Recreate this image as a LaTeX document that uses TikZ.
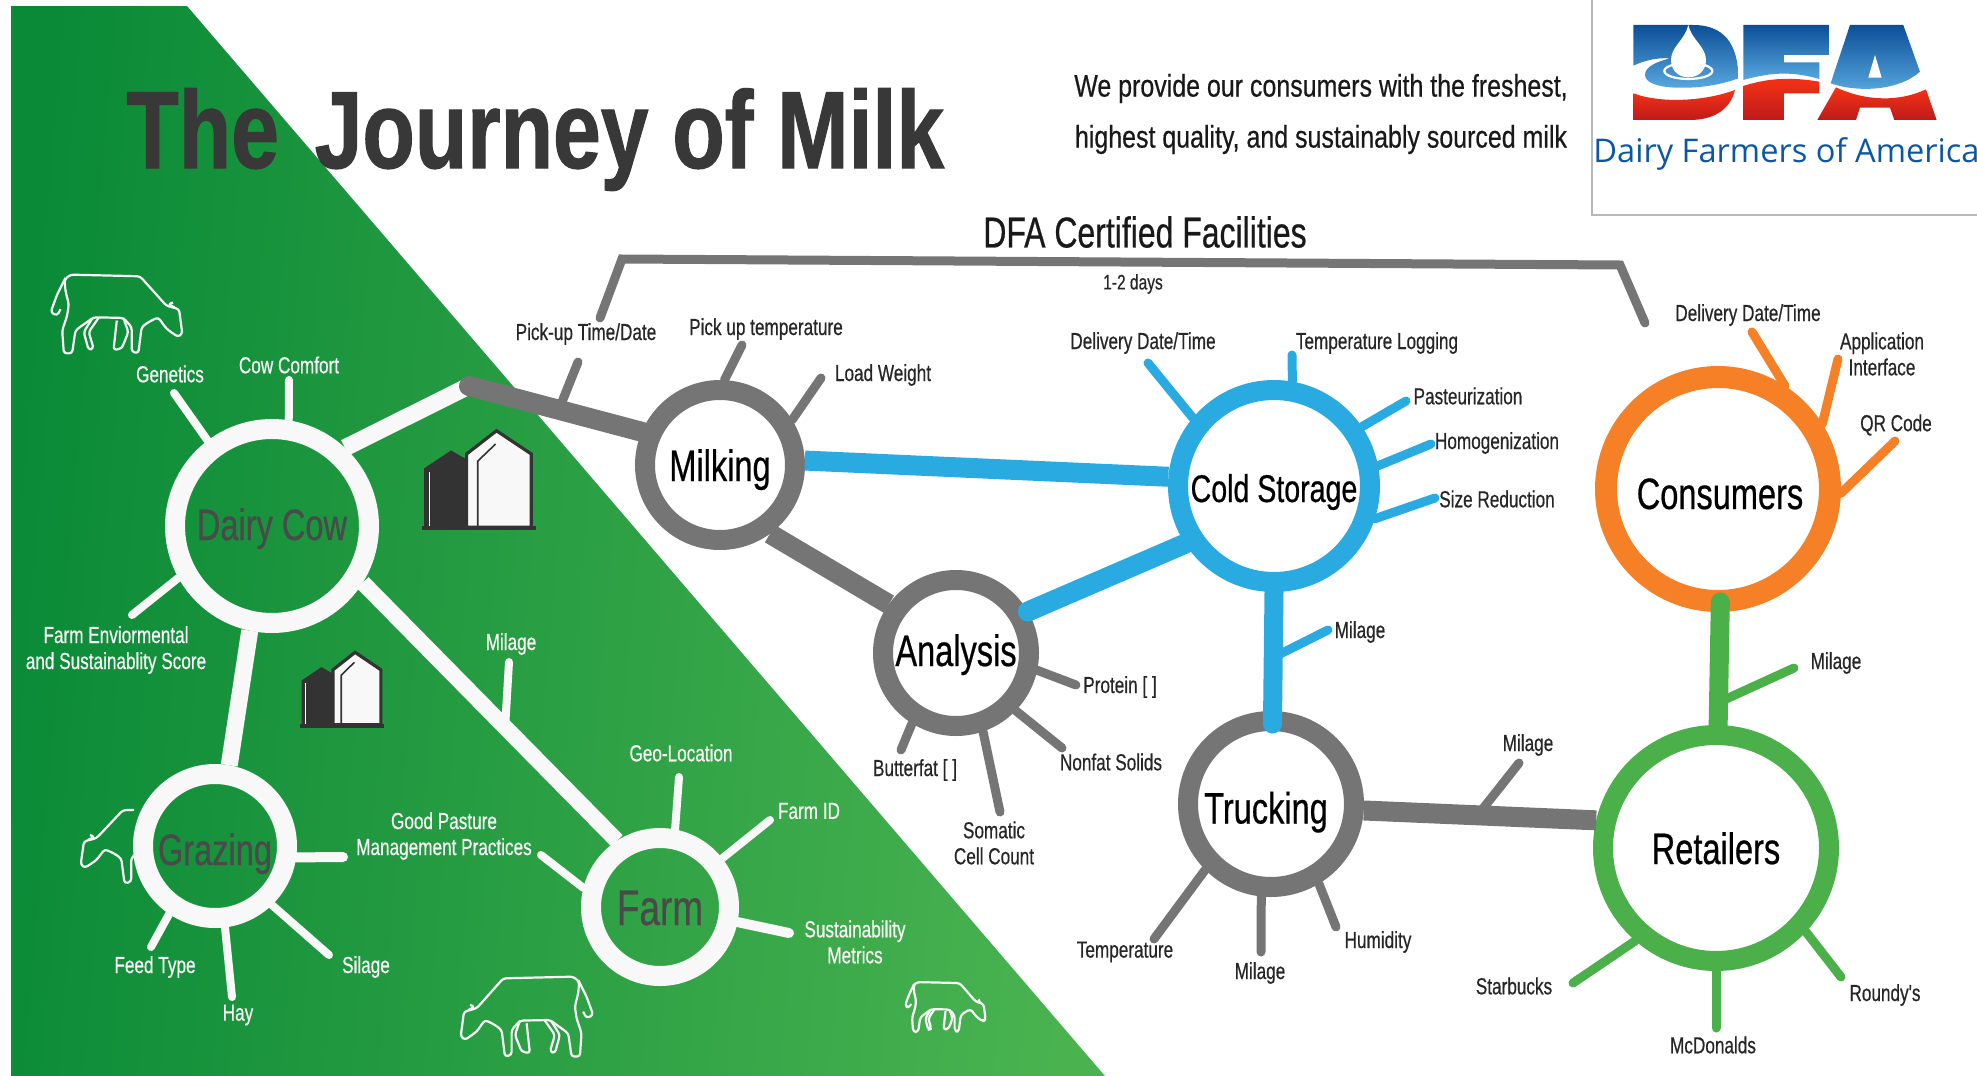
\documentclass[tikz,border=0pt]{standalone}
\usepackage{fontspec}
\setmainfont{Liberation Sans}
\newfontfamily\nar[FakeStretch=0.74,FakeBold=0.5]{Liberation Sans}
\newfontfamily\narb[FakeStretch=0.78,FakeBold=1]{Liberation Sans}
\newfontfamily\narc[FakeStretch=0.8,FakeBold=0.5]{Liberation Sans}
\newfontfamily\logof{Open Sans}
\definecolor{gA}{HTML}{0A8A37}
\definecolor{gB}{HTML}{4AB350}
\definecolor{cgray}{HTML}{757575}
\definecolor{cblue}{HTML}{29ABE2}
\definecolor{corange}{HTML}{F58026}
\definecolor{cgreen}{HTML}{4BB04A}
\definecolor{cwhite}{HTML}{F8F8F8}
\definecolor{cdark}{HTML}{333333}
\definecolor{ltext}{HTML}{4A4A4A}
\definecolor{lgb}{HTML}{0C4F98}
\definecolor{lgl}{HTML}{58A8DE}
\definecolor{lrt}{HTML}{F53316}
\definecolor{lrb}{HTML}{BE1A1A}
\definecolor{lblue}{HTML}{0B57A6}
\tikzset{
 ring/.style={circle,draw,line width=10pt,inner sep=0pt,align=center,text=black,text height=16pt,text depth=0pt,font=\nar\fontsize{22}{24}\selectfont},
 wring/.style={ring,draw=cwhite,text=ltext},
 lblk/.style={inner sep=0pt,align=center,text=black!85,font=\nar\fontsize{11.6}{13}\selectfont},
 lwht/.style={inner sep=0pt,align=center,text=cwhite,font=\nar\fontsize{11.6}{13}\selectfont},
 link/.style={line width=10pt},
 wtick/.style={draw=cwhite,line width=4pt,line cap=round},
 gtick/.style={draw=cgray,line width=4.5pt,line cap=round},
 btick/.style={draw=cblue,line width=4.5pt,line cap=round},
 otick/.style={draw=corange,line width=4.5pt,line cap=round},
 ntick/.style={draw=cgreen,line width=4.5pt,line cap=round},
 cowline/.style={draw=cwhite,line width=1.1pt,line join=round,rounded corners=1.5pt},
}
\newcommand{\cowicon}[1]{\begin{scope}[#1]
 \draw[cowline] (50,100) -- (130,10) -- (340,5) -- (358,20) -- (355,55) -- (345,95) -- (350,130) -- (365,175) -- (360,245) -- (335,245) -- (325,175) -- (270,135) -- (180,137) -- (155,165) -- (155,240) -- (135,245) -- (125,165) -- (105,150) -- (75,135) -- (50,170) -- (15,195) -- (2,185) -- (12,110) -- cycle;
 \draw[cowline] (355,15) -- (380,65) -- (400,120) -- (380,130) -- (370,110);
 \draw[cowline] (180,137) -- (165,180) -- (185,230) -- (210,235) -- (200,145);
 \draw[cowline] (275,140) -- (300,180) -- (285,235) -- (270,230) -- (285,180) -- (255,137);
 \draw[cowline] (25,105) -- (45,95) -- (30,90);
\end{scope}}
\newcommand{\siloicon}[1]{\begin{scope}[#1]
 \fill[cdark] (5,110) -- (65,60) -- (100,85) -- (100,275) -- (5,275) -- cycle;
 \draw[white,line width=.6pt] (17,120) -- (17,272);
 \draw[cdark,fill=cwhite,line width=1.6pt,line join=miter] (100,70) -- (167,5) -- (245,70) -- (245,275) -- (100,275) -- cycle;
 \draw[cdark,line width=.8pt] (125,272) -- (125,90) -- (165,42);
 \draw[cdark,line width=2pt] (0,278) -- (255,278);
\end{scope}}
\begin{document}
\begin{tikzpicture}[x=0.5pt,y=-0.5pt]
\useasboundingbox (0,0) rectangle (1977,1076);
% green field
\shade[left color=gA,right color=gB,shading angle=85] (11,6) -- (187,6) -- (1105,1076) -- (11,1076) -- cycle;
% logo frame
\draw[black!28,line width=.6pt] (1592,0) -- (1592,215) -- (1977,215);
% logo
\begin{scope}[shift={(1560,0)},scale=0.3333]
 \shade[top color=lgb,bottom color=lgl] (220,75) -- (400,75) .. controls (490,75) and (535,130) .. (535,235) .. controls (480,255) and (420,265) .. (350,263) .. controls (300,262) and (255,250) .. (255,225) .. controls (255,200) and (290,185) .. (330,175) .. controls (290,172) and (250,183) .. (220,197) -- cycle;
 \draw[white,line width=1.1pt] (385,213) ellipse [x radius=72,y radius=24];
 \fill[white] (385,75) .. controls (375,120) and (333,140) .. (333,180) .. controls (333,215) and (360,232) .. (385,232) .. controls (412,232) and (438,215) .. (438,180) .. controls (438,140) and (395,120) .. (385,75) -- cycle;
 \shade[top color=lrt,bottom color=lrb] (220,280) .. controls (300,310) and (430,305) .. (525,270) .. controls (510,330) and (460,360) .. (390,360) -- (220,360) -- cycle;
 \shade[top color=lgb,bottom color=lgl] (550,75) -- (807,75) -- (807,165) -- (672,165) -- (672,187) -- (778,187) -- (778,237) .. controls (700,215) and (640,215) .. (550,240) -- cycle;
 \shade[top color=lrt,bottom color=lrb] (550,258) .. controls (630,232) and (700,232) .. (778,245) -- (778,280) -- (672,280) -- (672,360) -- (550,360) -- cycle;
 \shade[top color=lgb,bottom color=lgl] (870,75) -- (1030,75) -- (1080,215) .. controls (1020,270) and (900,280) .. (812,250) -- cycle;
 \fill[white] (945,165) -- (965,233) -- (925,233) -- cycle;
 \shade[top color=lrt,bottom color=lrb] (828,262) .. controls (920,305) and (1020,305) .. (1098,268) -- (1130,360) -- (1003,360) -- (990,323) -- (900,323) -- (888,360) -- (772,360) -- cycle;
\end{scope}
\node[anchor=base west,inner sep=0pt,text=lblue,font=\logof\fontsize{16.3}{18}\selectfont] (logotext) at (1593,162) {Dairy Farmers of America};
% title
\node[anchor=base west,inner sep=0pt,text=black!78,font=\narb\bfseries\fontsize{55}{60}\selectfont] (title) at (126,168) {The\hspace{6pt} Journey of Milk};
\node[inner sep=0pt,align=center,text=black!90,font=\narc\fontsize{15.6}{25.5}\selectfont] (intro) at (1321,114) {We provide our consumers with the freshest,\\highest quality, and sustainably sourced milk};
\node[inner sep=0pt,text=black!90,font=\nar\fontsize{21.6}{22}\selectfont] (dfacert) at (1145,232) {DFA Certified Facilities};
\node[lblk,font=\nar\fontsize{10.5}{11}\selectfont] (days) at (1133,284) {1-2 days};
% icons
\cowicon{shift={(183,273)},xscale=-0.331,yscale=0.328}
\cowicon{shift={(460,975)},xscale=0.333,yscale=0.333}
\cowicon{shift={(986,981)},xscale=-0.2025,yscale=0.208}
\begin{scope}
 \clip (0,700) rectangle (134,950);
 \cowicon{shift={(80,807)},xscale=0.33,yscale=0.312}
\end{scope}
\siloicon{shift={(422,429)},xscale=0.446,yscale=0.357}
\siloicon{shift={(300,651)},xscale=0.33,yscale=0.268}
% hubs
\node[wring,minimum size=97pt,text height=14pt] (dairy) at (272,526) {Dairy Cow};
\node[wring,minimum size=72pt,text height=19pt,font=\nar\fontsize{22}{24}\selectfont] (grazing) at (215,846) {Grazing};
\node[wring,minimum size=69pt,text height=18pt,font=\nar\fontsize{25}{26}\selectfont] (farm) at (660,907) {Farm};
\node[ring,draw=cgray,fill=white,minimum size=75pt] (milking) at (720,465) {Milking};
\node[ring,draw=cgray,fill=white,minimum size=73pt,text height=13pt] (analysis) at (956,653) {Analysis};
\node[ring,draw=cblue,fill=white,minimum size=96pt,text height=16pt,font=\nar\fontsize{19.3}{22}\selectfont] (cold) at (1274,486) {Cold Storage};
\node[ring,draw=cgray,fill=white,minimum size=83pt,text height=19.5pt] (truck) at (1271,804) {\kern-5pt Trucking};
\node[ring,draw=corange,fill=white,line width=11pt,minimum size=112pt,text height=20pt] (consumers) at (1718,489) {\kern2pt Consumers};
\node[ring,draw=cgreen,fill=white,minimum size=113pt] (retail) at (1716,848) {Retailers};
% junction and main links
\coordinate (joint) at (469,386);
\draw[link,draw=cwhite,line width=8.5pt] (dairy.47) -- (joint);
\draw[link,draw=cwhite,line width=8.5pt] (dairy.258) -- (grazing.80);
\draw[link,draw=cwhite,line width=8pt] (dairy.-32) -- coordinate[pos=.56] (dfm) (farm.123);
\draw[link,draw=cgray,line cap=round] (joint) -- coordinate[pos=.52] (jm) (milking.157);
\draw[link,draw=cgray] (milking.306) -- (analysis.144);
\draw[link,draw=cblue] (milking.3) -- (cold.175.6);
\draw[link,draw=cblue,line cap=round] (analysis.30) -- (cold.213);
\draw[link,draw=cblue,line width=9.5pt,line cap=round,shorten >=-6.5pt] (cold.-90) -- coordinate[pos=.55] (ct) (truck.89);
\draw[link,draw=cgray] (truck.-4) -- coordinate[pos=.49] (tr) (retail.167);
\draw[link,draw=cgreen,line width=9.5pt,line cap=round,shorten <=-5pt] (consumers.-89) -- coordinate[pos=.8] (cr) (retail.89);
% bracket
\coordinate (bA) at (600,318);
\coordinate (bB) at (622,259);
\coordinate (bC) at (1620,265);
\coordinate (bD) at (1645,323);
\draw[gtick] (bA) -- (bB) -- (bC) -- (bD);
% free ends
\coordinate (e1) at (174,393); \coordinate (e2) at (289,380); \coordinate (e3) at (132,615);
\coordinate (e4) at (509,662); \coordinate (e5) at (343,857); \coordinate (e6) at (151,947);
\coordinate (e7) at (232,997); \coordinate (e8) at (329,955); \coordinate (e9) at (679,777);
\coordinate (e10) at (770,820); \coordinate (e11) at (789,933); \coordinate (e12) at (541,855);
\draw[wtick] (dairy.127) -- (e1); \draw[wtick] (dairy.81) -- (e2); \draw[wtick] (dairy.209) -- (e3);
\draw[wtick] (dfm) -- (e4);
\draw[wtick,line width=5pt] (grazing.-8) -- (e5); \draw[wtick] (grazing.236) -- (e6); \draw[wtick] (grazing.-83) -- (e7); \draw[wtick] (grazing.-46) -- (e8);
\draw[wtick] (farm.79) -- (e9); \draw[wtick] (farm.38) -- (e10); \draw[wtick,line width=5pt] (farm.-11) -- (e11); \draw[wtick] (farm.166) -- (e12);
\coordinate (g1) at (578,362); \coordinate (g2) at (742,345); \coordinate (g3) at (821,378);
\coordinate (g4) at (1076,685); \coordinate (g5) at (1062,748); \coordinate (g6) at (1000,812); \coordinate (g7) at (901,750);
\coordinate (g8) at (1154,939); \coordinate (g9) at (1261,952); \coordinate (g10) at (1336,927); \coordinate (g11) at (1519,763);
\draw[gtick] (jm) -- (g1); \draw[gtick] (milking.87) -- (g2); \draw[gtick] (milking.32) -- (g3);
\draw[gtick] (analysis.-12.6) -- (g4); \draw[gtick] (analysis.-44) -- (g5); \draw[gtick] (analysis.-71) -- (g6); \draw[gtick] (analysis.238) -- (g7);
\draw[gtick] (truck.225) -- (g8); \draw[gtick] (truck.-96) -- (g9); \draw[gtick] (truck.-59) -- (g10); \draw[gtick] (tr) -- (g11);
\coordinate (b1) at (1148,363); \coordinate (b2) at (1292,355); \coordinate (b3) at (1406,401);
\coordinate (b4) at (1431,444); \coordinate (b5) at (1435,498); \coordinate (b6) at (1328,630);
\draw[btick] (cold.140) -- (b1); \draw[btick] (cold.80) -- (b2); \draw[btick] (cold.34) -- (b3); \draw[btick] (cold.11.6) -- (b4); \draw[btick] (cold.-18) -- (b5); \draw[btick] (ct) -- (b6);
\coordinate (o1) at (1752,332); \coordinate (o2) at (1838,359); \coordinate (o3) at (1895,441);
\draw[otick] (consumers.57.6) -- (o1); \draw[otick] (consumers.32) -- (o2); \draw[otick] (consumers.-2) -- (o3);
\coordinate (n1) at (1794,668); \coordinate (n2) at (1573,983); \coordinate (n3) at (1716,1028); \coordinate (n4) at (1841,977);
\draw[ntick] (cr) -- (n1); \draw[ntick] (retail.229) -- (n2); \draw[ntick] (retail.-90) -- (n3); \draw[ntick] (retail.-43) -- (n4);
% white labels
\node[lwht] (l1) at (170,374) {Genetics};
\node[lwht] (l2) at (289,365) {Cow Comfort};
\node[lwht] (l3) at (116,650) {Farm Enviormental\\and Sustainablity Score};
\node[lwht] (l4) at (511,644) {Milage};
\node[lwht] (l5) at (444,836) {Good Pasture\\Management Practices};
\node[lwht] (l6) at (155,967) {Feed Type};
\node[lwht] (l7) at (238,1015) {Hay};
\node[lwht] (l8) at (366,967) {Silage};
\node[lwht] (l9) at (681,753) {Geo-Location};
\node[lwht] (l10) at (809,811) {Farm ID};
\node[lwht] (l11) at (855,942) {Sustainability\\Metrics};
% black labels
\node[lblk] (m1) at (586,334) {Pick-up Time/Date};
\node[lblk] (m2) at (766,329) {Pick up temperature};
\node[lblk] (m3) at (883,375) {Load Weight};
\node[lblk] (m4) at (1143,343) {Delivery Date/Time};
\node[lblk] (m5) at (1377,343) {Temperature Logging};
\node[lblk] (m6) at (1468,396) {Pasteurization};
\node[lblk] (m7) at (1497,443) {Homogenization};
\node[lblk] (m8) at (1497,499) {Size Reduction};
\node[lblk] (m9) at (1360,632) {Milage};
\node[lblk] (m10) at (1120,687) {Protein [ ]};
\node[lblk] (m11) at (1111,762) {Nonfat Solids};
\node[lblk] (m12) at (915,770) {Butterfat [ ]};
\node[lblk] (m13) at (994,843) {Somatic\\Cell Count};
\node[lblk] (m14) at (1528,745) {Milage};
\node[lblk] (m15) at (1125,952) {Temperature};
\node[lblk] (m16) at (1260,973) {Milage};
\node[lblk] (m17) at (1378,942) {Humidity};
\node[lblk] (m18) at (1514,986) {Starbucks};
\node[lblk] (m19) at (1713,1045) {McDonalds};
\node[lblk] (m20) at (1885,995) {Roundy's};
\node[lblk] (m21) at (1836,663) {Milage};
\node[lblk] (m22) at (1748,315) {Delivery Date/Time};
\node[lblk] (m23) at (1882,354) {Application\\Interface};
\node[lblk] (m24) at (1896,425) {QR Code};
\end{tikzpicture}
\end{document}
